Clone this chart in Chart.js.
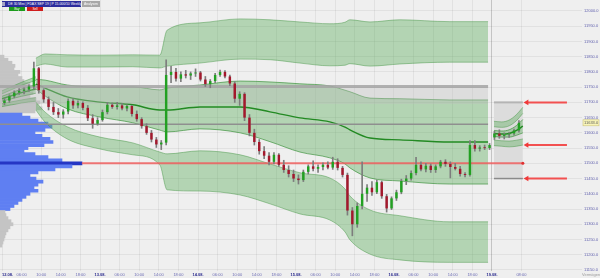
<!DOCTYPE html>
<html>
<head>
<meta charset="utf-8">
<script src="https://cdn.jsdelivr.net/npm/chart.js@4.4.1/dist/chart.umd.min.js"></script>
<style>
  html, body { margin: 0; padding: 0; background: #f0f0f0; }
  #wrap { position: relative; width: 600px; height: 278px; overflow: hidden; }
  #chart { position: absolute; left: 0; top: 0; }
  .tag { position: absolute; font-family: "Liberation Sans", sans-serif; color: #fff; white-space: nowrap; overflow: hidden; }
</style>
</head>
<body>
<div id="wrap">
  <canvas id="chart" width="600" height="278"></canvas>
  <div class="tag" style="left:2px;top:1px;width:79px;height:6px;background:#2d2d9c;font-size:3.4px;line-height:6px;padding-left:6px;box-sizing:border-box">DE 30 Mini | FDAX SEP 19 | P 15.000/10 Weekly</div>
  <div class="tag" style="left:2px;top:2px;width:3px;height:4px;background:#a4a4c4"></div>
  <div class="tag" style="left:82px;top:1px;width:18px;height:6px;background:#a8a8a8;font-size:3.4px;line-height:6px;text-align:center">Analysen</div>
  <div class="tag" style="left:9px;top:7px;width:16px;height:4px;background:#1c9c1c;font-size:3px;line-height:4px;text-align:center">Buy</div>
  <div class="tag" style="left:27px;top:7px;width:16px;height:4px;background:#d01c1c;font-size:3px;line-height:4px;text-align:center">Sell</div>
  <div class="tag" style="left:582px;top:272px;color:#9c9c9c;font-size:4px;line-height:5px">Vermögen</div>
</div>
<script>
//Axe des temps : heures depuis le 12.08. 02:00, 20 heures par jour
var tickPos = [0, 4, 8, 12, 16, 20, 24, 28, 32, 36, 40, 44, 48, 52, 56, 60, 64, 68, 72, 76, 80, 84, 88, 92, 96, 100, 106];
var tickText = ['12.08.', '06:00', '10:00', '14:00', '18:00',
                '13.08.', '06:00', '10:00', '14:00', '18:00',
                '14.08.', '06:00', '10:00', '14:00', '18:00',
                '15.08.', '06:00', '10:00', '14:00', '18:00',
                '16.08.', '06:00', '10:00', '14:00', '18:00',
                '19.08.', '08:00'];

//Bougies horaires
var candleOpen = [
    11698, 11706, 11720, 11732, 11738, 11742, 11752, 11812, 11740, 11710,
    11685, 11668, 11660, 11670, 11705, 11690, 11698, 11682, 11648, 11630,
    11642, 11668, 11692, 11685, 11690, 11680, 11688, 11662, 11645, 11622,
    11600, 11578, 11562, 11568, 11790, 11800, 11778, 11792, 11788, 11795,
    11798, 11775, 11760, 11770, 11790, 11800, 11785, 11762, 11712, 11728,
    11650, 11600, 11570, 11540, 11525, 11505, 11528, 11495, 11478, 11465,
    11450, 11445, 11472, 11490, 11482, 11488, 11495, 11486, 11505, 11485,
    11462, 11345, 11300, 11360, 11400, 11420, 11405, 11438, 11392, 11352,
    11385, 11405, 11442, 11450, 11468, 11495, 11480, 11492, 11478, 11490,
    11505, 11498, 11488, 11482, 11465, 11462, 11560, 11548, 11552, 11550,
    11585, 11598, 11590, 11595, 11598, 11608];
var candleHigh = [
    11712, 11725, 11738, 11745, 11748, 11758, 11832, 11815, 11745, 11718,
    11700, 11680, 11676, 11712, 11712, 11705, 11702, 11690, 11660, 11650,
    11675, 11700, 11698, 11700, 11696, 11692, 11690, 11672, 11650, 11630,
    11608, 11585, 11575, 11840, 11818, 11812, 11800, 11805, 11800, 11810,
    11802, 11785, 11775, 11795, 11806, 11804, 11790, 11768, 11735, 11732,
    11660, 11612, 11578, 11555, 11535, 11535, 11532, 11510, 11492, 11478,
    11462, 11478, 11495, 11508, 11495, 11502, 11505, 11520, 11515, 11490,
    11468, 11355, 11370, 11505, 11430, 11440, 11445, 11442, 11398, 11390,
    11412, 11448, 11460, 11475, 11520, 11505, 11500, 11498, 11495, 11510,
    11512, 11505, 11500, 11490, 11470, 11575, 11575, 11558, 11560, 11565,
    11605, 11610, 11600, 11602, 11612, 11640];
var candleLow = [
    11692, 11700, 11715, 11726, 11728, 11736, 11745, 11730, 11700, 11675,
    11660, 11650, 11648, 11662, 11680, 11682, 11675, 11640, 11615, 11625,
    11638, 11662, 11680, 11678, 11675, 11672, 11655, 11638, 11615, 11595,
    11570, 11552, 11545, 11560, 11765, 11770, 11768, 11780, 11775, 11785,
    11770, 11752, 11748, 11765, 11785, 11780, 11755, 11700, 11690, 11640,
    11590, 11560, 11530, 11515, 11495, 11498, 11490, 11470, 11455, 11440,
    11432, 11440, 11465, 11475, 11470, 11478, 11482, 11480, 11478, 11455,
    11330, 11262, 11290, 11350, 11375, 11395, 11400, 11385, 11340, 11348,
    11378, 11400, 11430, 11445, 11462, 11475, 11472, 11470, 11470, 11485,
    11490, 11452, 11478, 11458, 11455, 11458, 11540, 11540, 11545, 11545,
    11578, 11582, 11580, 11585, 11592, 11602];
var candleClose = [
    11706, 11720, 11732, 11738, 11742, 11752, 11812, 11740, 11710, 11685,
    11668, 11660, 11670, 11705, 11690, 11698, 11682, 11648, 11630, 11642,
    11668, 11692, 11685, 11690, 11680, 11688, 11662, 11645, 11622, 11600,
    11578, 11562, 11568, 11790, 11800, 11778, 11792, 11788, 11795, 11798,
    11775, 11760, 11770, 11790, 11800, 11785, 11762, 11712, 11728, 11650,
    11600, 11570, 11540, 11525, 11505, 11528, 11495, 11478, 11465, 11450,
    11445, 11472, 11490, 11482, 11488, 11495, 11486, 11505, 11485, 11462,
    11345, 11300, 11360, 11400, 11420, 11405, 11438, 11392, 11352, 11385,
    11405, 11442, 11450, 11468, 11495, 11480, 11492, 11478, 11490, 11505,
    11498, 11488, 11482, 11465, 11462, 11560, 11548, 11552, 11550, 11560,
    11598, 11590, 11595, 11598, 11608, 11633];

//VWAP + bandes (pré-ouverture 12.08.)
var bandATimes = [0, 2, 4, 6.9];
var bandAMid = [11712, 11722, 11732, 11744];
var bandADev1 = [8, 10, 12, 14];
var bandADev2 = [16, 20, 24, 28];
var bandADev3 = [26, 30, 34, 40];

//VWAP + bandes (depuis 12.08. 09:00)
var bandTimes = [6.9, 8.8, 13.3, 20, 26.7, 32.2, 33.7, 40.4, 48.6, 54.7, 60.8, 66.9, 70, 71, 75.1, 81.2, 91.4, 99.2];
var bandMid = [11760, 11747, 11718, 11701, 11692, 11675, 11675, 11685, 11685, 11669, 11649, 11636, 11619, 11610, 11583, 11577, 11570, 11570];
var bandDev1 = [16, 26, 39, 49, 59, 66, 72, 72, 85, 98, 112, 118, 121, 125, 131, 135, 138, 138];
var bandDev2 = [59, 79, 98, 115, 125, 138, 144, 144, 157, 171, 180, 184, 203, 217, 236, 249, 262, 262];
var bandDev3 = [85, 112, 138, 154, 164, 180, 262, 276, 289, 302, 315, 322, 344, 361, 381, 394, 395, 395];

//VWAP + bandes (19.08.)
var bandDTimes = [100.4, 102, 103.5, 105, 106.3];
var bandDMid = [11598, 11596, 11598, 11608, 11622];
var bandDDev1 = [10, 10, 12, 16, 22];
var bandDDev2 = [22, 22, 25, 32, 42];
var bandDDev3 = [40, 40, 44, 52, 62];

//Profil de volume (pas de 10 points)
var profilePrice = [
    11850, 11840, 11830, 11820, 11810, 11800, 11790, 11780, 11770, 11760,
    11750, 11740, 11730, 11720, 11710, 11700, 11690, 11680, 11670, 11660,
    11650, 11640, 11630, 11620, 11610, 11600, 11590, 11580, 11570, 11560,
    11550, 11540, 11530, 11520, 11510, 11500, 11490, 11480, 11470, 11460,
    11450, 11440, 11430, 11420, 11410, 11400, 11390, 11380, 11370, 11360,
    11350, 11340, 11330, 11320, 11310, 11300, 11290, 11280, 11270, 11260,
    11250, 11240, 11230];
var profileVolume = [
    40, 80, 120, 150, 140, 200, 180, 220, 240, 300,
    260, 280, 330, 300, 360, 400, 380, 420, 350, 220,
    300, 380, 480, 520, 450, 350, 420, 500, 530, 440,
    280, 240, 350, 480, 620, 820, 720, 550, 380, 300,
    360, 430, 380, 340, 380, 300, 260, 220, 180, 140,
    100, 50, 60, 80, 110, 130, 100, 80, 60, 50,
    40, 30, 20];
var valueAreaHigh = 11660;
var valueAreaLow = 11350;
var pocLevel = 11500;
var pocLineTimes = [16.3, 106.3];

//Zones et niveaux
var zoneTimes = [-0.5, 99.2];
var zoneHigh = 11752;
var zoneLow = 11695;
var refLevel = 11628;
var boxTimes = [100.4, 106.3];
var boxHigh = 11700;
var boxLow = 11450;
var arrowTimes = [107.1, 115.3];
var arrowLevels = [11700, 11560, 11450];
var lastPrice = candleClose[candleClose.length - 1];

var datasets = [];
function add(ds) {
    ds.xAxisID = ds.xAxisID || 'x';
    ds.yAxisID = ds.yAxisID || 'y';
    datasets.push(ds);
    return datasets.length - 1;
}

function levelLine(times, level) {
    return times.map(function (t) { return { x: t, y: level }; });
}

function addBands(times, mid, dev1, dev2, dev3) {
    var line = function (dev, sign) {
        return times.map(function (t, i) { return { x: t, y: mid[i] + sign * dev[i] }; });
    };
    var edge = { type: 'line', pointRadius: 0, borderWidth: 0.8, borderColor: 'rgba(70,150,70,0.6)',
                 cubicInterpolationMode: 'monotone', order: 15, fill: false };
    var fillColor = 'rgba(95,175,95,0.42)';
    var iU2 = add(Object.assign({}, edge, { data: line(dev2, 1) }));
    add(Object.assign({}, edge, { data: line(dev3, 1), fill: { target: iU2 }, backgroundColor: fillColor }));
    var iL1 = add(Object.assign({}, edge, { data: line(dev1, -1), borderColor: 'rgba(50,140,50,0.8)' }));
    add(Object.assign({}, edge, { data: line(dev1, 1), borderColor: 'rgba(50,140,50,0.8)', fill: { target: iL1 }, backgroundColor: fillColor }));
    var iL3 = add(Object.assign({}, edge, { data: line(dev3, -1) }));
    add(Object.assign({}, edge, { data: line(dev2, -1), fill: { target: iL3 }, backgroundColor: fillColor }));
    add(Object.assign({}, edge, { data: times.map(function (t, i) { return { x: t, y: mid[i] }; }),
                                  borderColor: '#238a23', borderWidth: 1.4, order: 14 }));
}

//Profil de volume horizontal
add({
    type: 'bar', indexAxis: 'y', xAxisID: 'xv', yAxisID: 'yv', grouped: false, order: 20,
    barPercentage: 1, categoryPercentage: 1,
    data: profilePrice.map(function (p, i) { return { x: profileVolume[i], y: p }; }),
    backgroundColor: profilePrice.map(function (p) {
        if (p === pocLevel) return '#2536c4';
        return (p <= valueAreaHigh && p >= valueAreaLow) ? '#5f7ff2' : '#c4c4c4';
    })
});

addBands(bandATimes, bandAMid, bandADev1, bandADev2, bandADev3);
addBands(bandTimes, bandMid, bandDev1, bandDev2, bandDev3);

//Zone grise 11752 - 11695
var iZoneLow = add({ type: 'line', data: levelLine(zoneTimes, zoneLow), pointRadius: 0, borderWidth: 0, fill: false, order: 13 });
add({ type: 'line', data: levelLine(zoneTimes, zoneHigh), pointRadius: 0, borderWidth: 3, borderColor: 'rgba(165,165,165,0.85)',
      fill: { target: iZoneLow }, backgroundColor: 'rgba(190,190,190,0.35)', order: 13 });
add({ type: 'line', data: levelLine(zoneTimes, refLevel), pointRadius: 0, borderWidth: 1.5, borderColor: '#8f8f8f', fill: false, order: 13 });

//Boîte du 19.08.
var iBoxLow = add({ type: 'line', data: levelLine(boxTimes, boxLow), pointRadius: 0, borderWidth: 1.5, borderColor: '#8a8a8a', fill: false, order: 17 });
add({ type: 'line', data: levelLine(boxTimes, boxHigh), pointRadius: 0, borderWidth: 2, borderColor: '#b4b4b4',
      fill: { target: iBoxLow }, backgroundColor: '#dcdcdc', order: 17 });
addBands(bandDTimes, bandDMid, bandDDev1, bandDDev2, bandDDev3);

//POC
add({ type: 'line', data: levelLine(pocLineTimes, pocLevel), borderWidth: 2, borderColor: 'rgba(238,95,95,0.85)',
      pointRadius: [0, 1.5], pointBackgroundColor: '#e03030', pointBorderWidth: 0, fill: false, order: 5 });

//Bougies : mèches + corps
add({
    type: 'bar', grouped: false, order: 4, barThickness: 1, backgroundColor: '#7d7d7d',
    data: candleLow.map(function (l, i) { return { x: i + 0.5, y: [l, candleHigh[i]] }; })
});
add({
    type: 'bar', grouped: false, order: 3, barPercentage: 0.5, categoryPercentage: 1, minBarLength: 0.8,
    data: candleOpen.map(function (o, i) { return { x: i + 0.5, y: [o, candleClose[i]] }; }),
    backgroundColor: candleOpen.map(function (o, i) { return candleClose[i] >= o ? '#22a022' : '#a3182c'; })
});

//Flèches rouges
arrowLevels.forEach(function (lvl) {
    add({ type: 'line', data: levelLine(arrowTimes, lvl), borderWidth: 2, borderColor: '#f25050',
          pointStyle: 'triangle', rotation: -90, pointRadius: [3.2, 0], pointBackgroundColor: '#f03a3a',
          pointBorderWidth: 0, fill: false, order: 1 });
});

var background = {
    id: 'background',
    beforeDraw: function (chart) {
        var c = chart.ctx;
        c.save();
        c.fillStyle = '#efefef';
        c.fillRect(0, 0, chart.width, chart.height);
        c.restore();
    }
};

var priceTag = {
    id: 'priceTag',
    afterDraw: function (chart) {
        var c = chart.ctx, y = chart.scales.y;
        var py = y.getPixelForValue(lastPrice);
        c.save();
        c.fillStyle = '#f8f4b8';
        c.strokeStyle = '#cbc37c';
        c.lineWidth = 0.6;
        c.fillRect(y.left + 1, py - 3, 16, 6);
        c.strokeRect(y.left + 1, py - 3, 16, 6);
        c.fillStyle = '#5a5a5a';
        c.font = '4px "Liberation Sans"';
        c.textBaseline = 'middle';
        c.fillText(lastPrice.toFixed(1), y.left + 2, py);
        c.restore();
    }
};

var ctx = document.getElementById('chart').getContext('2d');
var chart = new Chart(ctx, {
    type: 'line',
    data: { datasets: datasets },
    plugins: [background, priceTag],
    options: {
        responsive: false,
        animation: false,
        devicePixelRatio: 1,
        events: [],
        layout: { padding: 0, autoPadding: false },
        plugins: { legend: { display: false }, tooltip: { enabled: false } },
        scales: {
            x: {
                type: 'linear', axis: 'x', position: 'bottom', min: -0.41, max: 118.37, offset: false,
                afterBuildTicks: function (scale) {
                    scale.ticks = tickPos.map(function (v) { return { value: v }; });
                },
                afterFit: function (scale) {
                    scale.paddingLeft = 0;
                    scale.paddingRight = 0;
                    scale.height = 7;
                },
                grid: {
                    drawTicks: false, offset: false,
                    color: function (c) { return c.tick && c.tick.value === 100 ? '#c4c4c4' : 'rgba(0,0,0,0.055)'; }
                },
                border: { display: false },
                ticks: {
                    autoSkip: false, maxRotation: 0, minRotation: 0, padding: 1,
                    callback: function (v) {
                        var i = tickPos.indexOf(v);
                        if (i < 0) return '';
                        return i === 0 ? '          ' + tickText[i] : tickText[i];
                    },
                    font: function (c) {
                        var day = c.tick && tickText[tickPos.indexOf(c.tick.value)].indexOf('.') > 0;
                        return { family: 'Liberation Sans', size: 4, weight: day ? 'bold' : 'normal' };
                    },
                    color: function (c) {
                        var day = c.tick && tickText[tickPos.indexOf(c.tick.value)].indexOf('.') > 0;
                        return day ? '#26268c' : '#6a6ab4';
                    }
                }
            },
            y: {
                type: 'linear', axis: 'y', position: 'right', min: 11146.6, max: 12036, offset: false,
                afterFit: function (scale) {
                    scale.width = 18;
                    scale.paddingTop = 0;
                    scale.paddingBottom = 0;
                },
                grid: { drawTicks: false, offset: false, color: 'rgba(0,0,0,0.055)' },
                border: { display: false },
                ticks: {
                    stepSize: 50, includeBounds: false, padding: 2,
                    font: { family: 'Liberation Sans', size: 4 },
                    color: '#6262ae',
                    callback: function (v) { return v.toFixed(1); }
                }
            },
            xv: { type: 'linear', axis: 'x', position: 'bottom', display: false, offset: false, min: 0, max: 5820 },
            yv: { type: 'linear', axis: 'y', position: 'left', display: false, offset: false, min: 11146.6, max: 12036 }
        }
    }
});
</script>
</body>
</html>
